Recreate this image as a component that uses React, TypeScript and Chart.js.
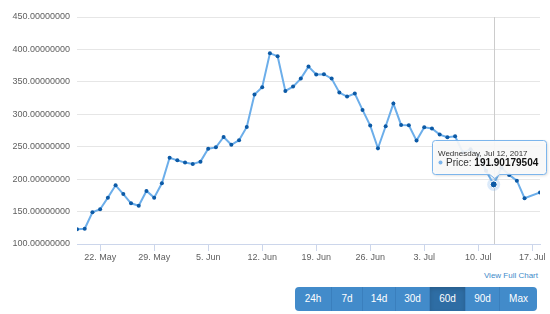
import React, { useEffect, useRef } from "react";
import { Chart, registerables } from "chart.js";

Chart.register(...registerables);

// ---- data ----
const dates: string[] = [
  "2017-05-19", "2017-05-20", "2017-05-21", "2017-05-22", "2017-05-23", "2017-05-24", "2017-05-25",
  "2017-05-26", "2017-05-27", "2017-05-28", "2017-05-29", "2017-05-30", "2017-05-31",
  "2017-06-01", "2017-06-02", "2017-06-03", "2017-06-04", "2017-06-05", "2017-06-06", "2017-06-07",
  "2017-06-08", "2017-06-09", "2017-06-10", "2017-06-11", "2017-06-12", "2017-06-13", "2017-06-14",
  "2017-06-15", "2017-06-16", "2017-06-17", "2017-06-18", "2017-06-19", "2017-06-20", "2017-06-21",
  "2017-06-22", "2017-06-23", "2017-06-24", "2017-06-25", "2017-06-26", "2017-06-27", "2017-06-28",
  "2017-06-29", "2017-06-30", "2017-07-01", "2017-07-02", "2017-07-03", "2017-07-04", "2017-07-05",
  "2017-07-06", "2017-07-07", "2017-07-08", "2017-07-09", "2017-07-10", "2017-07-11", "2017-07-12",
  "2017-07-13", "2017-07-14", "2017-07-15", "2017-07-16", "2017-07-18",
];

const prices: number[] = [
  122.7, 123.6, 149.0, 153.5, 171.5, 190.5, 177.0,
  162.8, 159.0, 181.8, 171.5, 193.6, 233.0,
  229.0, 225.5, 223.4, 227.0, 247.0, 249.0, 265.0,
  253.0, 260.0, 280.5, 330.4, 341.8, 394.0, 389.6,
  336.0, 342.7, 355.0, 373.5, 361.3, 361.8, 355.0,
  333.5, 327.3, 332.0, 306.8, 282.6, 247.6, 281.6,
  316.5, 283.6, 283.0, 259.4, 280.0, 278.0, 268.7,
  264.6, 266.0, 241.0, 246.0, 237.0, 213.0, 191.90179504,
  218.0, 206.5, 197.7, 170.5, 179.5,
];

const tickDates: string[] = [
  "2017-05-22", "2017-05-29", "2017-06-05", "2017-06-12", "2017-06-19",
  "2017-06-26", "2017-07-03", "2017-07-10", "2017-07-17",
];
const tickLabels: string[] = [
  "22. May", "29. May", "5. Jun", "12. Jun", "19. Jun", "26. Jun", "3. Jul", "10. Jul", "17. Jul",
];
const yTickValues: number[] = [100, 150, 200, 250, 300, 350, 400, 450];

const seriesName = "Price";
const hoverDate = "2017-07-12";
const hoverTitle = "Wednesday, Jul 12, 2017";
const hoverValueText = "191.90179504";

const ranges: string[] = ["24h", "7d", "14d", "30d", "60d", "90d", "Max"];
const rangeWidths: number[] = [36, 31, 33, 34, 36, 34, 38];
const activeRange = "60d";
const linkText = "View Full Chart";

// ---- helpers ----
const DAY = 86400000;
const t0 = Date.parse(dates[0] + "T00:00:00Z");
const dayIndex = (d: string) => (Date.parse(d + "T00:00:00Z") - t0) / DAY;
const FONT = "'Liberation Sans', Arial, Helvetica, sans-serif";

const hoverIndex = dates.indexOf(hoverDate);

const hoverPlugin = {
  id: "hoverTip",
  beforeDatasetsDraw(chart: any) {
    const { ctx, chartArea, scales } = chart;
    const px = Math.round(scales.x.getPixelForValue(dayIndex(hoverDate))) + 0.5;
    const py = scales.y.getPixelForValue(prices[hoverIndex]);
    ctx.save();
    ctx.strokeStyle = "#cccccc";
    ctx.lineWidth = 1;
    ctx.beginPath();
    ctx.moveTo(px, chartArea.top);
    ctx.lineTo(px, chartArea.bottom);
    ctx.stroke();
    ctx.restore();
    ctx.save();
    ctx.fillStyle = "rgba(124,181,236,0.28)";
    ctx.beginPath();
    ctx.arc(scales.x.getPixelForValue(dayIndex(hoverDate)), py, 6.5, 0, Math.PI * 2);
    ctx.fill();
    ctx.restore();
  },
  afterDraw(chart: any) {
    const { ctx, scales } = chart;
    const px = scales.x.getPixelForValue(dayIndex(hoverDate));
    const py = scales.y.getPixelForValue(prices[hoverIndex]);
    const bx = Math.round(px - 61.5) + 0.5;
    const by = Math.round(py - 44.5) + 0.5;
    const bw = 114;
    const bh = 34;
    const r = 3;
    const cx = px + 1;
    const tipY = py - 6;
    ctx.save();
    ctx.beginPath();
    ctx.moveTo(bx + r, by);
    ctx.lineTo(bx + bw - r, by);
    ctx.arcTo(bx + bw, by, bx + bw, by + r, r);
    ctx.lineTo(bx + bw, by + bh - r);
    ctx.arcTo(bx + bw, by + bh, bx + bw - r, by + bh, r);
    ctx.lineTo(cx + 5, by + bh);
    ctx.lineTo(cx, tipY);
    ctx.lineTo(cx - 5, by + bh);
    ctx.lineTo(bx + r, by + bh);
    ctx.arcTo(bx, by + bh, bx, by + bh - r, r);
    ctx.lineTo(bx, by + r);
    ctx.arcTo(bx, by, bx + r, by, r);
    ctx.closePath();
    ctx.shadowColor = "rgba(0,0,0,0.18)";
    ctx.shadowBlur = 3;
    ctx.shadowOffsetX = 1;
    ctx.shadowOffsetY = 1;
    ctx.fillStyle = "rgba(252,252,252,0.9)";
    ctx.fill();
    ctx.shadowColor = "transparent";
    ctx.strokeStyle = "#7cb5ec";
    ctx.lineWidth = 1;
    ctx.stroke();

    ctx.textBaseline = "alphabetic";
    ctx.textAlign = "left";
    ctx.fillStyle = "#333333";
    ctx.font = `8px ${FONT}`;
    ctx.fillText(hoverTitle, bx + 5.5, by + 15);

    ctx.fillStyle = "#7cb5ec";
    ctx.beginPath();
    ctx.arc(bx + 8, by + 22, 2, 0, Math.PI * 2);
    ctx.fill();

    ctx.fillStyle = "#333333";
    ctx.font = `10px ${FONT}`;
    const label = seriesName + ": ";
    ctx.fillText(label, bx + 13.5, by + 25.5);
    const lw = ctx.measureText(label).width;
    ctx.font = `bold 10px ${FONT}`;
    ctx.fillStyle = "#111111";
    ctx.fillText(hoverValueText, bx + 13.5 + lw, by + 25.5);
    ctx.restore();
  },
};

export default function App() {
  const canvasRef = useRef<HTMLCanvasElement | null>(null);

  useEffect(() => {
    const canvas = canvasRef.current;
    if (!canvas) return;
    const points = dates.map((d, i) => ({ x: dayIndex(d), y: prices[i] }));
    const chart = new Chart(canvas, {
      type: "line",
      data: {
        datasets: [
          {
            label: seriesName,
            data: points,
            borderColor: "#6caeea",
            borderWidth: 2,
            tension: 0,
            pointRadius: (c: any) => (c.dataIndex === hoverIndex ? 3.5 : 2),
            pointBackgroundColor: "#0c5aa6",
            pointBorderColor: (c: any) => (c.dataIndex === hoverIndex ? "#ffffff" : "#0c5aa6"),
            pointBorderWidth: (c: any) => (c.dataIndex === hoverIndex ? 1 : 0),
            fill: false,
          },
        ],
      },
      options: {
        responsive: false,
        animation: false,
        events: [],
        devicePixelRatio: 1,
        layout: { padding: { top: 17, right: 10, left: 0, bottom: 0 } },
        plugins: { legend: { display: false }, tooltip: { enabled: false } },
        scales: {
          x: {
            type: "linear",
            min: 0,
            max: dayIndex(dates[dates.length - 1]),
            afterBuildTicks: (scale: any) => {
              scale.ticks = tickDates.map((d) => ({ value: dayIndex(d) }));
            },
            afterFit: (scale: any) => {
              scale.height = 26;
            },
            ticks: {
              autoSkip: false,
              maxRotation: 0,
              padding: 1,
              color: "#606060",
              font: { family: FONT, size: 9 },
              callback: (v: any) => {
                const i = tickDates.findIndex((d) => Math.abs(dayIndex(d) - v) < 0.01);
                return i >= 0 ? tickLabels[i] : "";
              },
            },
            grid: {
              drawOnChartArea: false,
              drawTicks: true,
              tickLength: 7,
              tickColor: "#ccd6eb",
              color: "#ccd6eb",
            },
            border: { display: true, color: "#ccd6eb", width: 1 },
          },
          y: {
            type: "linear",
            min: yTickValues[0],
            max: yTickValues[yTickValues.length - 1],
            afterBuildTicks: (scale: any) => {
              scale.ticks = yTickValues.map((v) => ({ value: v }));
            },
            afterFit: (scale: any) => {
              scale.width = 77;
            },
            ticks: {
              padding: 7,
              color: "#606060",
              font: { family: FONT, size: 9 },
              callback: (v: any) => Number(v).toFixed(8),
            },
            grid: { color: "#e6e6e6", drawTicks: false, lineWidth: 1 },
            border: { display: false },
          },
        },
      },
      plugins: [hoverPlugin],
    });
    return () => chart.destroy();
  }, []);

  return (
    <div style={{ position: "absolute", left: 0, top: 0, width: 550, height: 314, background: "#fff", fontFamily: FONT }}>
      <canvas ref={canvasRef} width={550} height={270} style={{ position: "absolute", left: 0, top: 0, width: 550, height: 270 }} />
      <div
        style={{
          position: "absolute",
          right: 12,
          top: 270,
          fontSize: 8,
          lineHeight: "12px",
          color: "#428bca",
        }}
      >
        {linkText}
      </div>
      <div
        style={{
          position: "absolute",
          left: 295,
          top: 287,
          height: 24,
          display: "flex",
          borderRadius: 4,
          overflow: "hidden",
        }}
      >
        {ranges.map((r, i) => (
          <div
            key={r}
            style={{
              width: rangeWidths[i],
              height: 24,
              boxSizing: "border-box",
              background: r === activeRange ? "#2e6da4" : "#428bca",
              borderLeft: i === 0 ? "none" : "1px solid #3a7fbd",
              color: "#ffffff",
              fontSize: 10,
              lineHeight: "24px",
              textAlign: "center",
              boxShadow: r === activeRange ? "inset 0 2px 4px rgba(0,0,0,0.15)" : "none",
            }}
          >
            {r}
          </div>
        ))}
      </div>
    </div>
  );
}
